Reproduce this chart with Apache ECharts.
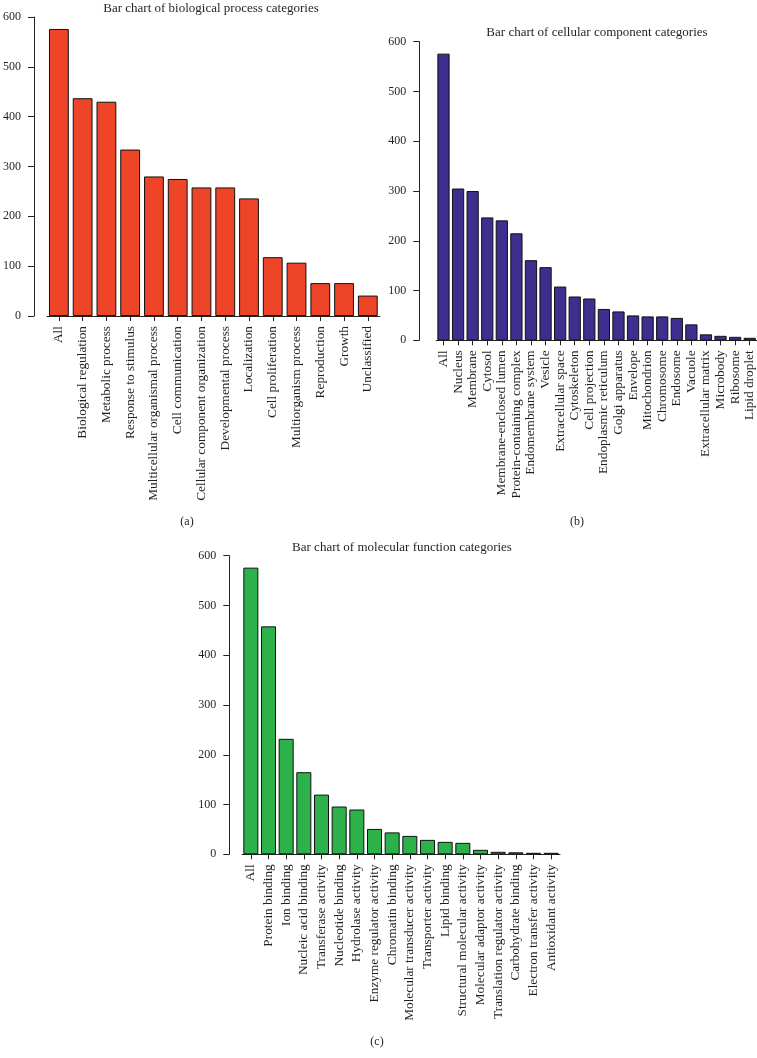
<!DOCTYPE html>
<html><head><meta charset="utf-8">
<script src="https://cdn.jsdelivr.net/npm/echarts@6/dist/echarts.min.js"></script>
<style>html,body{margin:0;padding:0;background:#fff}#c{width:757px;height:1058px}</style>
</head><body><div id="c"></div>
<script>
const bpCategories = ["All","Biological regulation","Metabolic process","Response to stimulus","Multicellular organismal process","Cell communication","Cellular component organization","Developmental process","Localization","Cell proliferation","Multiorganism process","Reproduction","Growth","Unclassified"];
const bpValues = [576,437,430,334,280,275,258,258,236,118,107,66,66,41];
const ccCategories = ["All","Nucleus","Membrane","Cytosol","Membrane-enclosed lumen","Protein-containing complex","Endomembrane system","Vesicle","Extracellular space","Cytoskeleton","Cell projection","Endoplasmic reticulum","Golgi apparatus","Envelope","Mitochondrion","Chromosome","Endosome","Vacuole","Extracellular matrix","Microbody","Ribosome","Lipid droplet"];
const ccValues = [576,305,300,247,241,215,161,147,108,88,84,63,58,50,48,48,45,32,12,9,7,5];
const mfCategories = ["All","Protein binding","Ion binding","Nucleic acid binding","Transferase activity","Nucleotide binding","Hydrolase activity","Enzyme regulator activity","Chromatin binding","Molecular transducer activity","Transporter activity","Lipid binding","Structural molecular activity","Molecular adaptor activity","Translation regulator activity","Carbohydrate binding","Electron transfer activity","Antioxidant activity"];
const mfValues = [576,458,232,165,120,96,90,51,44,37,29,25,23,9,5,4,3,3];
const yTicks = [0,100,200,300,400,500,600];
const titles = ["Bar chart of biological process categories","Bar chart of cellular component categories","Bar chart of molecular function categories"];
const panelLabels = ["(a)","(b)","(c)"];

const FONT = "Liberation Serif";
const TXT = "#231f20";
const grids = [
  {left:43, top:17, width:336.7, height:299},
  {left:436.2, top:41.7, width:322.7, height:298.6},
  {left:242, top:555.7, width:318, height:298.6}
];
const offsets = [13, 17, 12.7];
const gaps = ['16.6%','16%','15%'];
const colors = ['#ee4427','#3d2f8e','#2db24b'];
const cats = [bpCategories, ccCategories, mfCategories];
const vals = [bpValues, ccValues, mfValues];

const tStyle = {fontFamily:FONT,fontSize:13,fontWeight:'normal',color:TXT};
const pStyle = {fontFamily:FONT,fontSize:12,fontWeight:'normal',color:TXT};
const chart = echarts.init(document.getElementById('c'), null, {renderer:'canvas'});
const option = {
  animation:false,
  backgroundColor:'#fff',
  textStyle:{fontFamily:FONT},
  title:[
    {text:titles[0], left:206, top:-3, textAlign:'center', textStyle:tStyle},
    {text:titles[1], left:592, top:21, textAlign:'center', textStyle:tStyle},
    {text:titles[2], left:397, top:536, textAlign:'center', textStyle:tStyle},
    {text:panelLabels[0], left:182, top:511, textAlign:'center', textStyle:pStyle},
    {text:panelLabels[1], left:572, top:511, textAlign:'center', textStyle:pStyle},
    {text:panelLabels[2], left:372, top:1031, textAlign:'center', textStyle:pStyle}
  ],
  grid: grids.map(g=>Object.assign({containLabel:false},g)),
  xAxis: cats.map((c,i)=>({
    type:'category', gridIndex:i, data:c,
    axisLine:{show:true, lineStyle:{color:'#222',width:1}},
    axisTick:{show:true, alignWithLabel:true, length:5, lineStyle:{color:'#222'}},
    axisLabel:{rotate:90, interval:0, margin:10, fontFamily:FONT, fontSize:13.3, color:TXT}
  })),
  yAxis: cats.map((c,i)=>({
    type:'value', gridIndex:i, min:0, max:600, interval:100, offset:offsets[i],
    splitLine:{show:false},
    axisLine:{show:true, lineStyle:{color:'#222',width:1}},
    axisTick:{show:true, length:6, lineStyle:{color:'#222'}},
    axisLabel:{margin:13, fontFamily:FONT, fontSize:12, color:TXT,
      formatter:(v)=> yTicks.includes(v) ? String(v) : ''}
  })),
  series: vals.map((v,i)=>({
    type:'bar', xAxisIndex:i, yAxisIndex:i, data:v,
    barCategoryGap:gaps[i],
    itemStyle:{color:colors[i], borderColor:'#111', borderWidth:1}
  }))
};
chart.setOption(option);
</script>
</body></html>
